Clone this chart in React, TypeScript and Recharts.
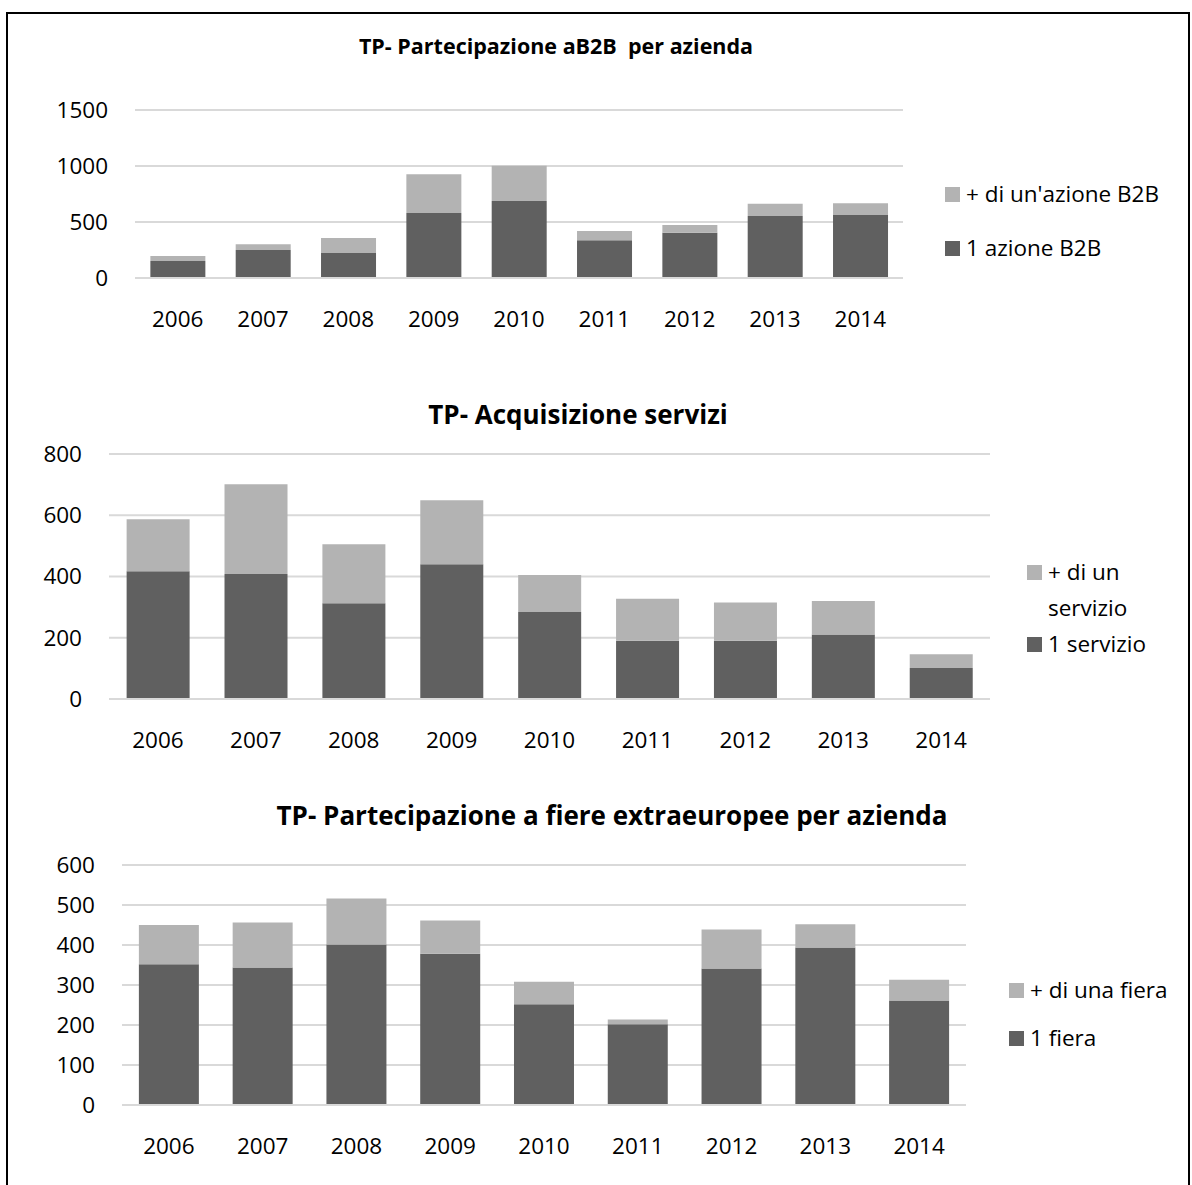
import React from 'react';
import { BarChart, Bar, XAxis, YAxis, CartesianGrid, Legend } from 'recharts';

const years = ['2006', '2007', '2008', '2009', '2010', '2011', '2012', '2013', '2014'];

// TP- Partecipazione aB2B per azienda
const b2bSingle = [152, 250, 223, 580, 688, 337, 405, 554, 562];
const b2bMulti = [44, 51, 134, 346, 315, 83, 68, 109, 105];
const b2bTicks = [0, 500, 1000, 1500];

// TP- Acquisizione servizi
const serviziSingle = [417, 408, 313, 440, 284, 190, 190, 211, 101];
const serviziMulti = [170, 293, 192, 209, 121, 137, 125, 109, 45];
const serviziTicks = [0, 200, 400, 600, 800];

// TP- Partecipazione a fiere extraeuropee per azienda
const fiereSingle = [352, 344, 401, 378, 252, 202, 341, 394, 261];
const fiereMulti = [98, 112, 115, 83, 56, 12, 98, 58, 52];
const fiereTicks = [0, 100, 200, 300, 400, 500, 600];

const DARK = '#606060';
const LIGHT = '#b3b3b3';
const GRID = '#d9d9d9';
const FONT = '"Open Sans", sans-serif';
const TEXT_SIZE = 22.5;

const buildRows = (single: number[], multi: number[]) =>
  years.map((year, i) => ({ year, single: single[i], multi: multi[i] }));

interface LegendBoxProps {
  payload?: any[];
  textWidth: number;
  itemGap: number;
}

const LegendBox = ({ payload, textWidth, itemGap }: LegendBoxProps) => {
  const order = (k: string) => (k === 'multi' ? 0 : 1);
  const items = [...(payload || [])].sort((a, b) => order(a.dataKey) - order(b.dataKey));
  return (
    <div style={{ fontFamily: FONT, fontSize: TEXT_SIZE, lineHeight: '36px', color: '#000' }}>
      {items.map((item, i) => (
        <div key={item.value} style={{ display: 'flex', alignItems: 'flex-start', marginTop: i ? itemGap : 0 }}>
          <span style={{ width: 15, height: 15, background: item.color, marginTop: 11, marginRight: 6, flexShrink: 0 }} />
          <span style={{ width: textWidth }}>{item.value}</span>
        </div>
      ))}
    </div>
  );
};

interface StackChartProps {
  top: number;
  plotTop: number;
  plotHeight: number;
  plotLeft: number;
  plotRight: number;
  ticks: number[];
  single: number[];
  multi: number[];
  singleName: string;
  multiName: string;
  legendLeft: number;
  legendTop: number;
  legendTextWidth: number;
  legendGap: number;
}

const StackChart = (p: StackChartProps) => {
  const xAxisHeight = 60;
  const height = p.plotTop - p.top + p.plotHeight + xAxisHeight;
  return (
    <div style={{ position: 'absolute', left: 0, top: p.top }}>
      <BarChart
        width={1192}
        height={height}
        data={buildRows(p.single, p.multi)}
        margin={{ top: p.plotTop - p.top, right: 1192 - p.plotRight, bottom: 0, left: 0 }}
        barCategoryGap="18%"
      >
        <CartesianGrid vertical={false} stroke={GRID} strokeWidth={2} />
        <XAxis
          dataKey="year"
          height={xAxisHeight}
          axisLine={{ stroke: GRID, strokeWidth: 2 }}
          tickLine={false}
          tickSize={0}
          tickMargin={33}
          tick={{ fill: '#000', fontSize: TEXT_SIZE, fontFamily: FONT }}
          interval={0}
        />
        <YAxis
          width={p.plotLeft}
          domain={[p.ticks[0], p.ticks[p.ticks.length - 1]]}
          ticks={p.ticks}
          axisLine={false}
          tickLine={false}
          tickSize={0}
          tickMargin={27}
          tick={{ fill: '#000', fontSize: TEXT_SIZE, fontFamily: FONT }}
        />
        <Legend
          layout="horizontal"
          verticalAlign="middle"
          wrapperStyle={{ left: p.legendLeft, top: p.legendTop, width: 'auto' }}
          content={(props: any) => (
            <LegendBox payload={props.payload} textWidth={p.legendTextWidth} itemGap={p.legendGap} />
          )}
        />
        <Bar dataKey="single" name={p.singleName} stackId="a" fill={DARK} isAnimationActive={false} />
        <Bar dataKey="multi" name={p.multiName} stackId="a" fill={LIGHT} isAnimationActive={false} />
      </BarChart>
    </div>
  );
};

const titleStyle = (top: number, centerX: number, size: number): React.CSSProperties => ({
  position: 'absolute',
  top: top - size * 0.7,
  left: centerX - 400,
  width: 800,
  textAlign: 'center',
  fontFamily: FONT,
  fontWeight: 700,
  fontSize: size,
  lineHeight: `${size * 1.4}px`,
  color: '#000',
  whiteSpace: 'pre',
});

const App = () => (
  <div style={{ position: 'absolute', left: 0, top: 0, width: 1192, height: 1185, overflow: 'hidden', background: '#fff' }}>
    <div
      style={{
        position: 'absolute',
        left: 6,
        top: 12,
        width: 1184,
        height: 1200,
        border: '2px solid #000',
        boxSizing: 'border-box',
      }}
    />

    <div style={titleStyle(46, 556, 21.5)}>TP- Partecipazione aB2B  per azienda</div>
    <StackChart
      top={80}
      plotTop={110}
      plotHeight={168}
      plotLeft={135}
      plotRight={903}
      ticks={b2bTicks}
      single={b2bSingle}
      multi={b2bMulti}
      singleName="1 azione B2B"
      multiName="+ di un'azione B2B"
      legendLeft={945}
      legendTop={96}
      legendTextWidth={220}
      legendGap={18}
    />

    <div style={titleStyle(414, 578, 26)}>TP- Acquisizione servizi</div>
    <StackChart
      top={432}
      plotTop={454}
      plotHeight={245}
      plotLeft={109}
      plotRight={990}
      ticks={serviziTicks}
      single={serviziSingle}
      multi={serviziMulti}
      singleName="1 servizio"
      multiName="+ di un servizio"
      legendLeft={1027}
      legendTop={122}
      legendTextWidth={118}
      legendGap={0}
    />

    <div style={titleStyle(815, 612, 26)}>TP- Partecipazione a fiere extraeuropee per azienda</div>
    <StackChart
      top={846}
      plotTop={865}
      plotHeight={240}
      plotLeft={122}
      plotRight={966}
      ticks={fiereTicks}
      single={fiereSingle}
      multi={fiereMulti}
      singleName="1 fiera"
      multiName="+ di una fiera"
      legendLeft={1009}
      legendTop={126}
      legendTextWidth={165}
      legendGap={12}
    />
  </div>
);

export default App;
